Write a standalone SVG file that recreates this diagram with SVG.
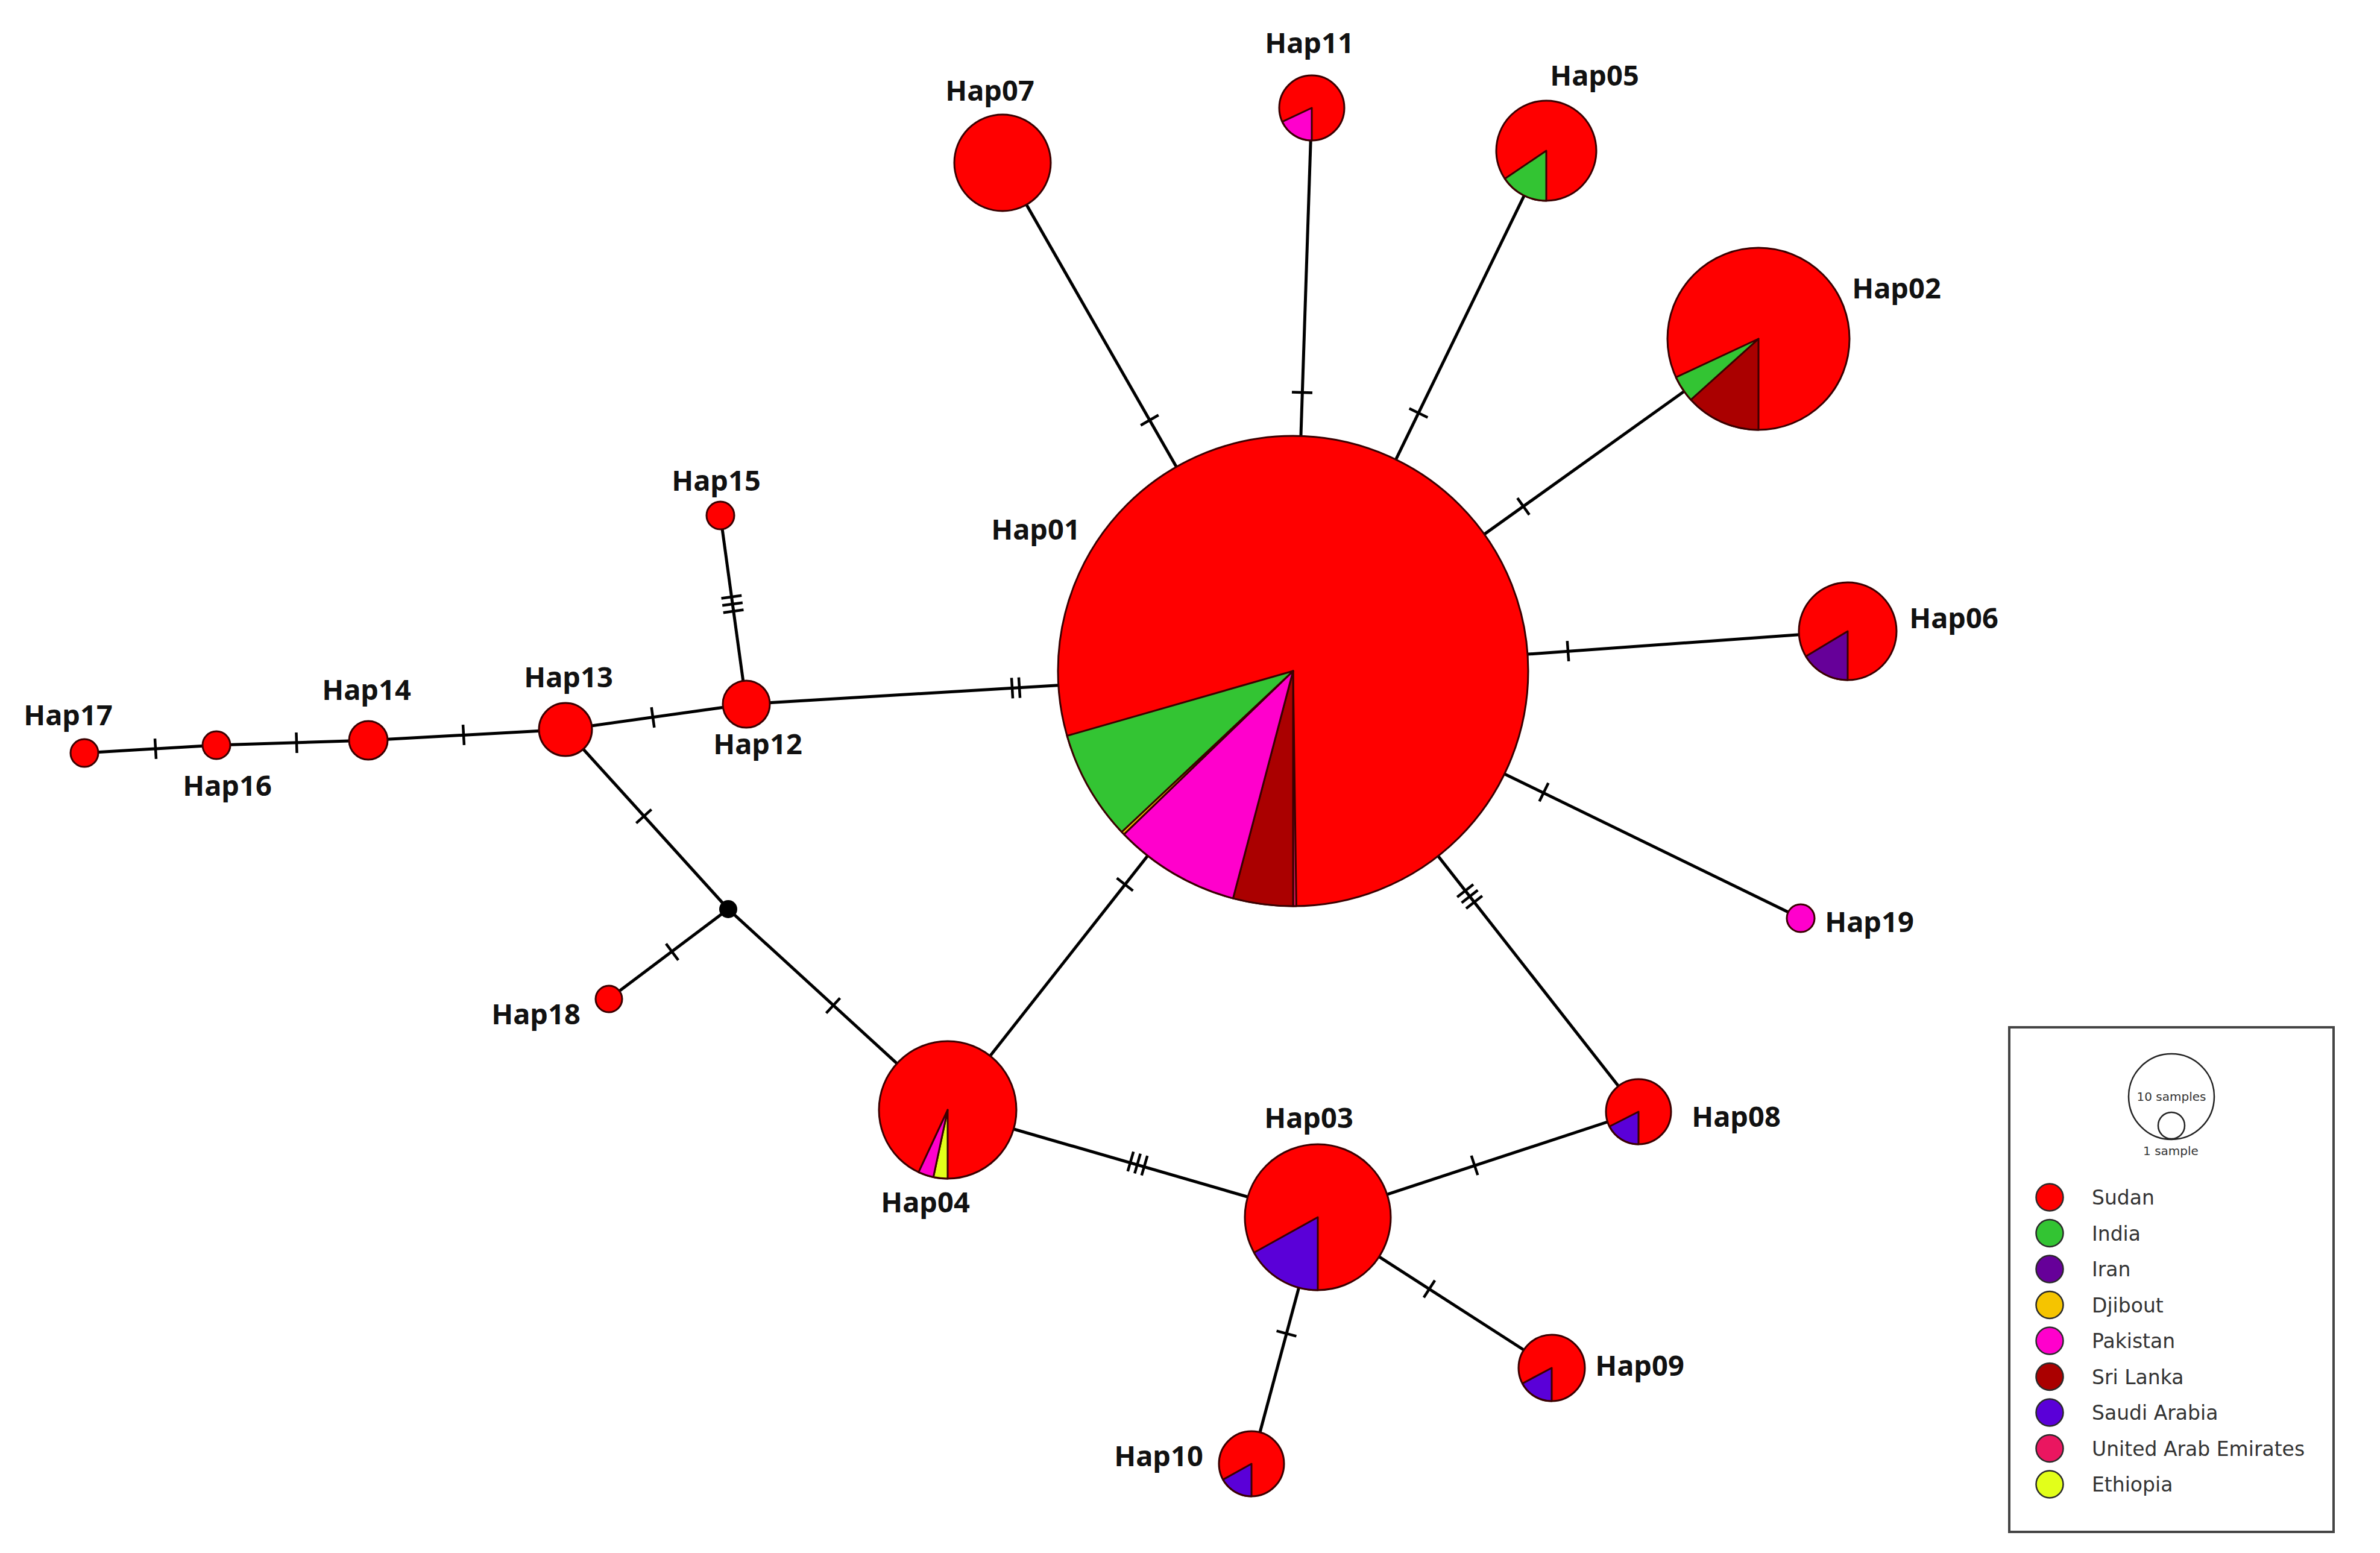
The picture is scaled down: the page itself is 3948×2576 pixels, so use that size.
<svg xmlns="http://www.w3.org/2000/svg" xmlns:xlink="http://www.w3.org/1999/xlink" width="3948" height="2576" viewBox="0 0 3948 2576">
<style>
.edge{stroke:#000;stroke-width:5;fill:none}
.tick line{stroke:#000;stroke-width:4.5}
.n{stroke:#3a0000;stroke-width:3;stroke-linejoin:round}
.lbl{font-family:"Noto Sans","DejaVu Sans",sans-serif;font-weight:bold;font-size:47px;fill:#111;text-anchor:middle}
.leg{font-family:"DejaVu Sans","Noto Sans",sans-serif;font-size:33px;fill:#333}
.legs{font-family:"DejaVu Sans","Noto Sans",sans-serif;font-size:20px;fill:#333;text-anchor:middle}
.lc{stroke:#2a2a2a;stroke-width:2.5}
.sud{fill:#FF0000}.ind{fill:#33C433}.irn{fill:#660099}.dji{fill:#F5C400}.pak{fill:#FF00CC}
.sri{fill:#AA0000}.sau{fill:#5A00D8}.uae{fill:#EA1660}.eth{fill:#E2FF1A}
</style>
<defs>
<g id="t1" class="tick"><line x1="0" y1="-17" x2="0" y2="17"/></g>
<g id="t2" class="tick"><line x1="-6" y1="-17" x2="-6" y2="17"/><line x1="6" y1="-17" x2="6" y2="17"/></g>
<g id="t3" class="tick"><line x1="-12" y1="-17" x2="-12" y2="17"/><line x1="0" y1="-17" x2="0" y2="17"/><line x1="12" y1="-17" x2="12" y2="17"/></g>
</defs>
<rect x="0" y="0" width="3948" height="2576" fill="#fff"/>

<g id="connectors">
<line class="edge" x1="140" y1="1249" x2="359" y2="1236"/>
<line class="edge" x1="359" y1="1236" x2="611" y2="1228"/>
<line class="edge" x1="611" y1="1228" x2="938" y2="1210"/>
<line class="edge" x1="938" y1="1210" x2="1238" y2="1168"/>
<line class="edge" x1="1195" y1="855" x2="1238" y2="1168"/>
<line class="edge" x1="1238" y1="1168" x2="2145" y2="1113"/>
<line class="edge" x1="938" y1="1210" x2="1208" y2="1508"/>
<line class="edge" x1="1208" y1="1508" x2="1010" y2="1657"/>
<line class="edge" x1="1208" y1="1508" x2="1572" y2="1841"/>
<line class="edge" x1="1572" y1="1841" x2="2145" y2="1113"/>
<line class="edge" x1="1572" y1="1841" x2="2186" y2="2019"/>
<line class="edge" x1="2186" y1="2019" x2="2718" y2="1844"/>
<line class="edge" x1="2186" y1="2019" x2="2574" y2="2269"/>
<line class="edge" x1="2186" y1="2019" x2="2076" y2="2428"/>
<line class="edge" x1="2145" y1="1113" x2="2718" y2="1844"/>
<line class="edge" x1="2145" y1="1113" x2="1663" y2="270"/>
<line class="edge" x1="2145" y1="1113" x2="2176" y2="179"/>
<line class="edge" x1="2145" y1="1113" x2="2565" y2="249"/>
<line class="edge" x1="2145" y1="1113" x2="2917" y2="561"/>
<line class="edge" x1="2145" y1="1113" x2="3065" y2="1047"/>
<line class="edge" x1="2145" y1="1113" x2="2987" y2="1523"/>
<use xlink:href="#t1" transform="translate(258,1242) rotate(-3.4)"/>
<use xlink:href="#t1" transform="translate(492,1232) rotate(-1.8)"/>
<use xlink:href="#t1" transform="translate(769,1219) rotate(-3.2)"/>
<use xlink:href="#t1" transform="translate(1083,1190) rotate(-8)"/>
<use xlink:href="#t3" transform="translate(1215,1002) rotate(82.2)"/>
<use xlink:href="#t2" transform="translate(1685,1141) rotate(-3.5)"/>
<use xlink:href="#t1" transform="translate(1068,1354) rotate(47.9)"/>
<use xlink:href="#t1" transform="translate(1115,1579) rotate(143.2)"/>
<use xlink:href="#t1" transform="translate(1382,1668) rotate(42.4)"/>
<use xlink:href="#t1" transform="translate(1866,1467) rotate(-51.8)"/>
<use xlink:href="#t3" transform="translate(1887,1930) rotate(16.2)"/>
<use xlink:href="#t1" transform="translate(2446,1933) rotate(-18.2)"/>
<use xlink:href="#t1" transform="translate(2371,2138) rotate(32.8)"/>
<use xlink:href="#t1" transform="translate(2134,2212) rotate(105.1)"/>
<use xlink:href="#t3" transform="translate(2438,1487) rotate(51.9)"/>
<use xlink:href="#t1" transform="translate(1907,697) rotate(60.2)"/>
<use xlink:href="#t1" transform="translate(2160,651) rotate(-88.1)"/>
<use xlink:href="#t1" transform="translate(2353,685) rotate(-64.1)"/>
<use xlink:href="#t1" transform="translate(2527,840) rotate(-35.6)"/>
<use xlink:href="#t1" transform="translate(2601,1080) rotate(-4.1)"/>
<use xlink:href="#t1" transform="translate(2561,1314) rotate(26)"/>
</g>

<g id="hap01">
<circle class="n sud" cx="2145" cy="1113" r="390"/>
<path class="n uae" d="M2145,1113 L2150.4,1503 A390,390 0 0 1 2145,1503 Z"/>
<path class="n sri" d="M2145,1113 L2145,1503 A390,390 0 0 1 2045.4,1490.1 Z"/>
<path class="n pak" d="M2145,1113 L2045.4,1490.1 A390,390 0 0 1 1864.5,1383.9 Z"/>
<path class="n dji" d="M2145,1113 L1864.5,1383.9 A390,390 0 0 1 1860.7,1380 Z"/>
<path class="n ind" d="M2145,1113 L1860.7,1380 A390,390 0 0 1 1770.1,1220.5 Z"/>
<text class="lbl" x="1718" y="895">Hap01</text>
</g>
<g id="hap02">
<circle class="n sud" cx="2917" cy="562" r="151"/>
<path class="n sri" d="M2917,562 L2917,713 A151,151 0 0 1 2804.8,663 Z"/>
<path class="n ind" d="M2917,562 L2804.8,663 A151,151 0 0 1 2780.1,625.8 Z"/>
<text class="lbl" x="3146" y="495">Hap02</text>
</g>
<g id="hap03">
<circle class="n sud" cx="2186" cy="2019" r="121"/>
<path class="n sau" d="M2186,2019 L2186,2140 A121,121 0 0 1 2080.2,2077.7 Z"/>
<text class="lbl" x="2171" y="1871">Hap03</text>
</g>
<g id="hap04">
<circle class="n sud" cx="1572" cy="1841" r="114"/>
<path class="n eth" d="M1572,1841 L1572,1955 A114,114 0 0 1 1548.3,1952.5 Z"/>
<path class="n pak" d="M1572,1841 L1548.3,1952.5 A114,114 0 0 1 1523.8,1944.3 Z"/>
<text class="lbl" x="1535" y="2011">Hap04</text>
</g>
<g id="hap05">
<circle class="n sud" cx="2565" cy="250" r="83"/>
<path class="n ind" d="M2565,250 L2565,333 A83,83 0 0 1 2496.2,296.4 Z"/>
<text class="lbl" x="2645" y="142">Hap05</text>
</g>
<g id="hap06">
<circle class="n sud" cx="3065" cy="1047" r="81"/>
<path class="n irn" d="M3065,1047 L3065,1128 A81,81 0 0 1 2995.6,1088.7 Z"/>
<text class="lbl" x="3241" y="1042">Hap06</text>
</g>
<g id="hap07">
<circle class="n sud" cx="1663" cy="270" r="80"/>
<text class="lbl" x="1642" y="167">Hap07</text>
</g>
<g id="hap08">
<circle class="n sud" cx="2718" cy="1844" r="54"/>
<path class="n sau" d="M2718,1844 L2718,1898 A54,54 0 0 1 2669.9,1868.5 Z"/>
<text class="lbl" x="2880" y="1869">Hap08</text>
</g>
<g id="hap09">
<circle class="n sud" cx="2574" cy="2269" r="55"/>
<path class="n sau" d="M2574,2269 L2574,2324 A55,55 0 0 1 2525.4,2294.8 Z"/>
<text class="lbl" x="2720" y="2282">Hap09</text>
</g>
<g id="hap10">
<circle class="n sud" cx="2076" cy="2428" r="54"/>
<path class="n sau" d="M2076,2428 L2076,2482 A54,54 0 0 1 2028.8,2454.2 Z"/>
<text class="lbl" x="1922" y="2432">Hap10</text>
</g>
<g id="hap11">
<circle class="n sud" cx="2176" cy="179" r="54"/>
<path class="n pak" d="M2176,179 L2176,233 A54,54 0 0 1 2127.1,201.8 Z"/>
<text class="lbl" x="2172" y="88">Hap11</text>
</g>
<g id="hap12">
<circle class="n sud" cx="1238" cy="1168" r="39"/>
<text class="lbl" x="1257" y="1251">Hap12</text>
</g>
<g id="hap13">
<circle class="n sud" cx="938" cy="1210" r="44"/>
<text class="lbl" x="943" y="1140">Hap13</text>
</g>
<g id="hap14">
<circle class="n sud" cx="611" cy="1228" r="32"/>
<text class="lbl" x="608" y="1161">Hap14</text>
</g>
<g id="hap15">
<circle class="n sud" cx="1195" cy="855" r="23"/>
<text class="lbl" x="1188" y="814">Hap15</text>
</g>
<g id="hap16">
<circle class="n sud" cx="359" cy="1236" r="23"/>
<text class="lbl" x="377" y="1320">Hap16</text>
</g>
<g id="hap17">
<circle class="n sud" cx="140" cy="1249" r="23"/>
<text class="lbl" x="113" y="1203">Hap17</text>
</g>
<g id="hap18">
<circle class="n sud" cx="1010" cy="1657" r="22"/>
<text class="lbl" x="889" y="1699">Hap18</text>
</g>
<g id="hap19">
<circle class="n pak" cx="2987" cy="1523" r="23"/>
<text class="lbl" x="3101" y="1546">Hap19</text>
</g>
<g id="median">
<circle cx="1208" cy="1508" r="15" fill="#000"/>
</g>

<g id="legend">
<rect x="3333" y="1704" width="538" height="837" fill="#fff" stroke="#444" stroke-width="4"/>
<circle cx="3602" cy="1819" r="71" fill="none" stroke="#222" stroke-width="2.5"/>
<circle cx="3602" cy="1867" r="22" fill="none" stroke="#222" stroke-width="2.5"/>
<text class="legs" x="3602" y="1826">10 samples</text>
<text class="legs" x="3601" y="1916">1 sample</text>
<circle class="lc sud" cx="3400" cy="1986" r="22.5"/><text class="leg" x="3470" y="1998">Sudan</text>
<circle class="lc ind" cx="3400" cy="2045.5" r="22.5"/><text class="leg" x="3470" y="2057.5">India</text>
<circle class="lc irn" cx="3400" cy="2105" r="22.5"/><text class="leg" x="3470" y="2117">Iran</text>
<circle class="lc dji" cx="3400" cy="2164.5" r="22.5"/><text class="leg" x="3470" y="2176.5">Djibout</text>
<circle class="lc pak" cx="3400" cy="2224" r="22.5"/><text class="leg" x="3470" y="2236">Pakistan</text>
<circle class="lc sri" cx="3400" cy="2283.5" r="22.5"/><text class="leg" x="3470" y="2295.5">Sri Lanka</text>
<circle class="lc sau" cx="3400" cy="2343" r="22.5"/><text class="leg" x="3470" y="2355">Saudi Arabia</text>
<circle class="lc uae" cx="3400" cy="2402.5" r="22.5"/><text class="leg" x="3470" y="2414.5">United Arab Emirates</text>
<circle class="lc eth" cx="3400" cy="2462" r="22.5"/><text class="leg" x="3470" y="2474">Ethiopia</text>
</g>
</svg>
